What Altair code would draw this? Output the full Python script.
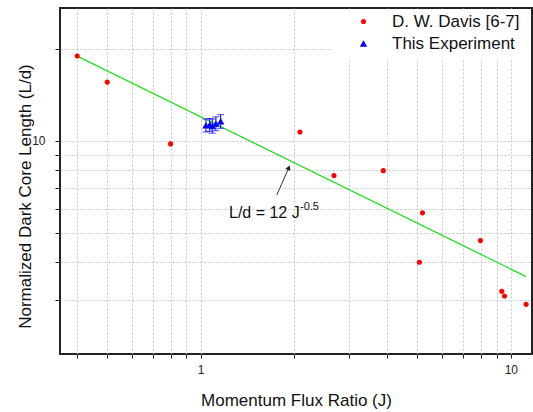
import altair as alt
import pandas as pd

# ---- data ----
davis_J = [0.40, 0.50, 0.80, 2.09, 2.69, 3.88, 5.07, 5.19, 7.98, 9.35, 9.54, 11.2]
davis_L = [19.0, 15.6, 9.78, 10.7, 7.70, 7.99, 4.00, 5.81, 4.71, 3.21, 3.10, 2.91]
exp_J = [1.04, 1.07, 1.09, 1.12, 1.16]
exp_L = [11.25, 11.30, 11.20, 11.40, 11.60]
exp_err = [0.55, 0.55, 0.60, 0.60, 0.60]
fit_J = [0.40, 11.2]
fit_L = [18.97, 3.59]
series_names = ["D. W. Davis [6-7]", "This Experiment"]
x_ticks = [0.4, 0.5, 0.6, 0.7, 0.8, 0.9, 1, 2, 3, 4, 5, 6, 7, 8, 9, 10]
y_ticks = [3, 4, 5, 6, 7, 8, 9, 10, 20]
arrow_J = [1.76, 1.924]
arrow_L = [6.65, 8.17]
label_J = [1.234]
label_L = [5.59]

FONT = "Liberation Sans"

pts = pd.DataFrame({
    "J": davis_J + exp_J,
    "L": davis_L + exp_L,
    "series": [series_names[0]] * len(davis_J) + [series_names[1]] * len(exp_J),
})
err = pd.DataFrame({
    "J": exp_J,
    "lo": [l - e for l, e in zip(exp_L, exp_err)],
    "hi": [l + e for l, e in zip(exp_L, exp_err)],
})
fit = pd.DataFrame({"J": fit_J, "L": fit_L})
arrow_line = pd.DataFrame({"J": [arrow_J[0]], "L": [arrow_L[0]], "J2": [arrow_J[1]], "L2": [arrow_L[1]]})
arrow_head = pd.DataFrame({"J": [arrow_J[1]], "L": [arrow_L[1]]})
label = pd.DataFrame({"J": label_J, "L": label_L})

xs = alt.Scale(type="log", domain=[0.352, 11.7], nice=False)
ys = alt.Scale(type="log", domain=[2.0, 27.3], nice=False)

x_axis = alt.Axis(
    values=x_ticks,
    labelExpr="datum.value == 1 || datum.value == 10 ? datum.value : ''",
    grid=True, gridDash=[2, 2], gridColor="#c4c4c4", gridWidth=1,
    domain=False, tickSize=4, tickColor="#222222", tickWidth=1,
    labelFont=FONT, labelFontSize=12, labelColor="#222222", labelPadding=6,
    title="Momentum Flux Ratio (J)", titleFont=FONT, titleFontSize=17,
    titleFontWeight="normal", titleColor="#111111",
    titleX=236, titleY=46, titleAlign="center", titleBaseline="middle",
)
y_axis = alt.Axis(
    values=y_ticks,
    labelExpr="datum.value == 10 ? datum.value : ''",
    grid=True, gridDash=[2, 2], gridColor="#c4c4c4", gridWidth=1,
    domain=False, tickSize=5, tickColor="#222222", tickWidth=1,
    labelFont=FONT, labelFontSize=12, labelColor="#222222", labelPadding=10,
    title="Normalized Dark Core Length (L/d)", titleFont=FONT, titleFontSize=17,
    titleFontWeight="normal", titleColor="#111111",
    titleX=-35, titleY=188, titleAngle=-90, titleAlign="center", titleBaseline="middle",
)


def X(field):
    return alt.X(field, scale=xs, axis=x_axis)


def Y(field):
    return alt.Y(field, scale=ys, axis=y_axis)


legend = alt.Legend(
    title=None, orient="none", legendX=295, legendY=5,
    labelFont=FONT, labelFontSize=17, labelColor="#111111",
    labelOffset=20, rowPadding=4, symbolSize=30, padding=0,
)

legend_bg = alt.Chart(pd.DataFrame({"a": [0]})).mark_rect(fill="white").encode(
    x=alt.value(272), x2=alt.value(471), y=alt.value(1), y2=alt.value(50)
)

fit_line = alt.Chart(fit).mark_line(color="#22e022", strokeWidth=1.3).encode(
    x=X("J:Q"), y=Y("L:Q"),
)

err_rule = alt.Chart(err).mark_rule(color="#0000ff", strokeWidth=1).encode(
    x=X("J:Q"), y=Y("lo:Q"), y2="hi:Q",
)
cap_lo = alt.Chart(err).mark_tick(orient="horizontal", color="#0000ff", size=7, thickness=1).encode(
    x=X("J:Q"), y=Y("lo:Q"),
)
cap_hi = alt.Chart(err).mark_tick(orient="horizontal", color="#0000ff", size=7, thickness=1).encode(
    x=X("J:Q"), y=Y("hi:Q"),
)

points = alt.Chart(pts).mark_point(filled=True, opacity=1).encode(
    x=X("J:Q"), y=Y("L:Q"),
    color=alt.Color("series:N", scale=alt.Scale(domain=series_names, range=["#ff0000", "#0000ff"]), legend=legend),
    shape=alt.Shape("series:N", scale=alt.Scale(domain=series_names, range=["circle", "triangle-up"]), legend=legend),
    size=alt.Size("series:N", scale=alt.Scale(domain=series_names, range=[26, 55]), legend=None),
)

arrow = alt.Chart(arrow_line).mark_rule(color="#333333", strokeWidth=1).encode(
    x=X("J:Q"), y=Y("L:Q"), x2="J2:Q", y2="L2:Q",
)
head = alt.Chart(arrow_head).mark_point(shape="triangle-up", filled=True, color="#222222", size=30, angle=24, opacity=1).encode(
    x=X("J:Q"), y=Y("L:Q"),
)
txt = alt.Chart(label).mark_text(align="left", baseline="alphabetic", font=FONT, fontSize=16, color="#111111").encode(
    x=X("J:Q"), y=Y("L:Q"), text=alt.value("L/d = 12 J"),
)
sup = alt.Chart(label).mark_text(align="left", baseline="alphabetic", font=FONT, fontSize=11, color="#111111", dx=71, dy=-8).encode(
    x=X("J:Q"), y=Y("L:Q"), text=alt.value("-0.5"),
)

chart = alt.layer(
    fit_line, legend_bg, err_rule, cap_lo, cap_hi, points, arrow, head, txt, sup
).properties(
    width=472, height=346,
    padding={"left": 60, "top": 8, "right": 1, "bottom": 58},
    autosize=alt.AutoSizeParams(type="none"),
    background="white",
    view=alt.ViewBackground(stroke="#222222", strokeWidth=2),
).configure(
    font=FONT,
    view=alt.ViewConfig(stroke="#222222", strokeWidth=2),
)

chart.save("out.html", embed_options={"renderer": "svg", "actions": False})
